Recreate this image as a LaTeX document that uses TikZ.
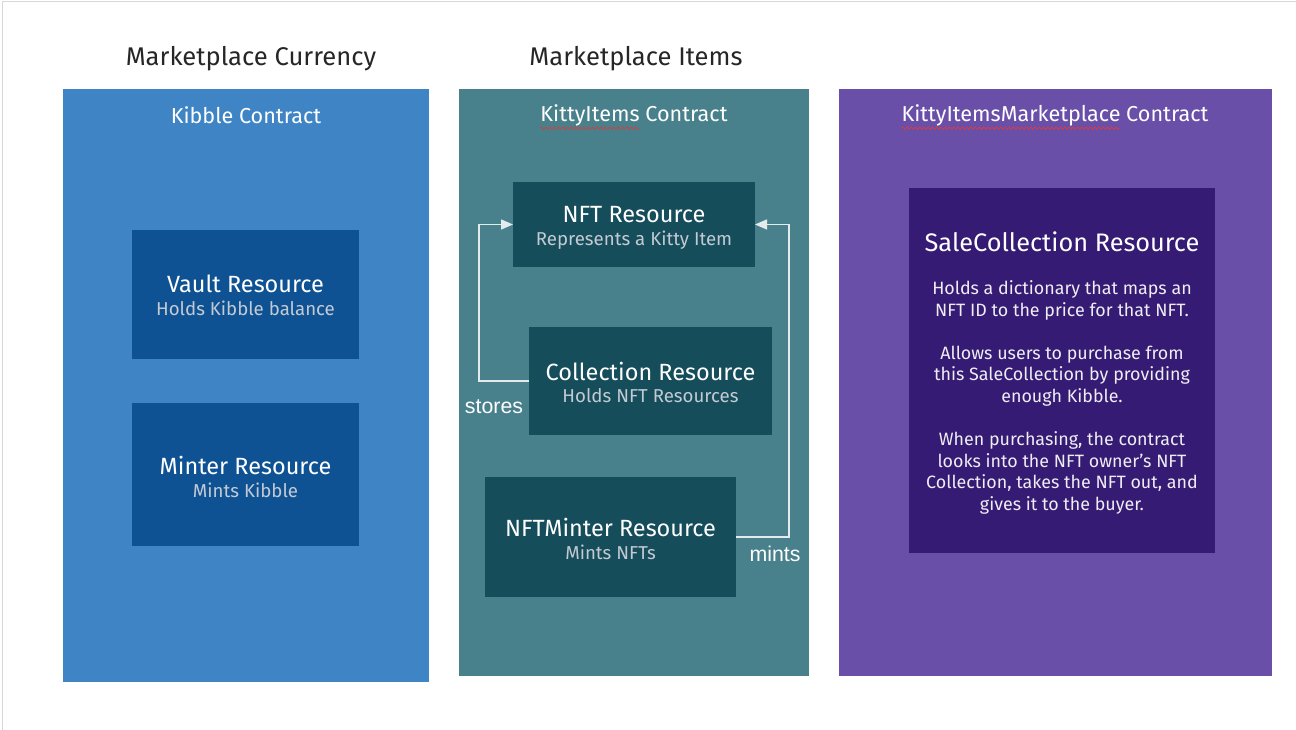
\documentclass[tikz,border=0pt]{standalone}
\usepackage{fontspec}
\setmainfont{Fira Sans}
\newfontfamily\arialfont{Liberation Sans}
\usetikzlibrary{fit,arrows.meta,decorations.pathmorphing}
\definecolor{bluepanel}{HTML}{3F85C6}
\definecolor{bluebox}{HTML}{0E5294}
\definecolor{tealpanel}{HTML}{48818C}
\definecolor{tealbox}{HTML}{154D5B}
\definecolor{purppanel}{HTML}{6A4FA8}
\definecolor{purpbox}{HTML}{351B73}
\definecolor{subgray}{HTML}{C3CAD3}
\definecolor{linecol}{HTML}{E4EBED}
\definecolor{squigred}{HTML}{E03A3A}
\definecolor{framegray}{HTML}{D8D8D8}
\newcommand\contractfont{\fontsize{16.2}{19}\selectfont}
\newlength\kiw
\newlength\kimw
\tikzset{
  panel/.style={inner sep=0pt, outer sep=0pt},
  resbox/.style={inner sep=0pt, outer sep=0pt},
  sectitle/.style={font=\fontsize{19.2}{22}\selectfont, text=black!85, inner sep=0pt},
  ctitle/.style={font=\contractfont, text=white, inner sep=0pt},
  rtitle/.style={font=\fontsize{17.6}{20}\selectfont, text=white, inner sep=0pt},
  rsub/.style={font=\fontsize{14}{16}\selectfont, text=subgray, inner sep=0pt},
  conn/.style={draw=linecol, line width=1.1pt},
  connarrow/.style={conn, -{Triangle[length=9pt,width=7.5pt]}},
  connlabel/.style={font=\arialfont\fontsize{16}{18}\selectfont, text=white, inner sep=0pt},
  squig/.style={draw=squigred, line width=0.5pt, decorate, decoration={snake, amplitude=0.9pt, segment length=3.2pt}}
}
\begin{document}
\settowidth{\kiw}{\contractfont KittyItems}%
\settowidth{\kimw}{\contractfont KittyItemsMarketplace}%
\begin{tikzpicture}[x=0.75pt,y=-0.75pt]
\useasboundingbox (0,0) rectangle (1296,730);
\fill[white] (0,0) rectangle (1296,730);
% frame
\draw[framegray, line width=1pt] (2.5,730) -- (2.5,1.5) -- (1296,1.5);

% section titles
\node[sectitle] (t1) at (251,58.5) {Marketplace Currency};
\node[sectitle] (t2) at (636,58.5) {Marketplace Items};

% panels
\node[panel, fill=bluepanel, fit={(63,89) (429,682)}] (cur) {};
\node[panel, fill=tealpanel, fit={(459,89) (808.5,676)}] (items) {};
\node[panel, fill=purppanel, fit={(839,89) (1272,676)}] (market) {};

% contract titles
\node[ctitle] (c1) at (246,115.5) {Kibble Contract};
\node[ctitle] (c2) at (634,115.5) {KittyItems Contract};
\node[ctitle] (c3) at (1055,115.5) {KittyItemsMarketplace Contract};
\draw[squig] ([yshift=-9.5pt]c2.west) -- ++(\kiw,0);
\draw[squig] ([yshift=-9.5pt]c3.west) -- ++(\kimw,0);

% Kibble boxes
\node[resbox, fill=bluebox, fit={(132,230) (359,359)}] (vault) {};
\node[rtitle] (vaultT) at (245.5,284) {Vault Resource};
\node[rsub] (vaultS) at (245.5,308) {Holds Kibble balance};

\node[resbox, fill=bluebox, fit={(132,403) (359,546)}] (minter) {};
\node[rtitle] (minterT) at (245.5,465) {Minter Resource};
\node[rsub] (minterS) at (245.5,490) {Mints Kibble};

% KittyItems boxes
\node[resbox, fill=tealbox, fit={(513,182) (755,267)}] (nft) {};
\node[rtitle] (nftT) at (634,215) {NFT Resource};
\node[rsub] (nftS) at (634,240) {Represents a Kitty Item};

\node[resbox, fill=tealbox, fit={(529,327) (772,435)}] (coll) {};
\node[rtitle] (collT) at (650.5,371) {Collection Resource};
\node[rsub] (collS) at (650.5,396) {Holds NFT Resources};

\node[resbox, fill=tealbox, fit={(485,477) (736,597)}] (nftm) {};
\node[rtitle] (nftmT) at (610.5,527) {NFTMinter Resource};
\node[rsub] (nftmS) at (610.5,552) {Mints NFTs};

% connectors
\coordinate (sx) at (479,381);
\coordinate (mx) at (789,537);
\draw[connarrow] (coll.west) -- (sx) |- (nft.west);
\draw[connarrow] (nftm.east) -- (mx) |- (nft.east);
\node[connlabel] (storesL) at (494,407) {stores};
\node[connlabel] (mintsL) at (775,554) {mints};

% SaleCollection
\node[resbox, fill=purpbox, fit={(909,188) (1215,553)}] (sale) {};
\node[font=\fontsize{19}{22}\selectfont, text=white, inner sep=0pt] (saleT) at (1062,242) {SaleCollection Resource};
\node[font=\fontsize{13.4}{16.2}\selectfont, text=white!92!purpbox, inner sep=0pt, align=center] (saleB) at (1062,397.5)
{Holds a dictionary that maps an\\
NFT ID to the price for that NFT.\\[16.2pt]
Allows users to purchase from\\
this SaleCollection by providing\\
enough Kibble.\\[16.2pt]
When purchasing, the contract\\
looks into the NFT owner’s NFT\\
Collection, takes the NFT out, and\\
gives it to the buyer.};
\end{tikzpicture}
\end{document}
